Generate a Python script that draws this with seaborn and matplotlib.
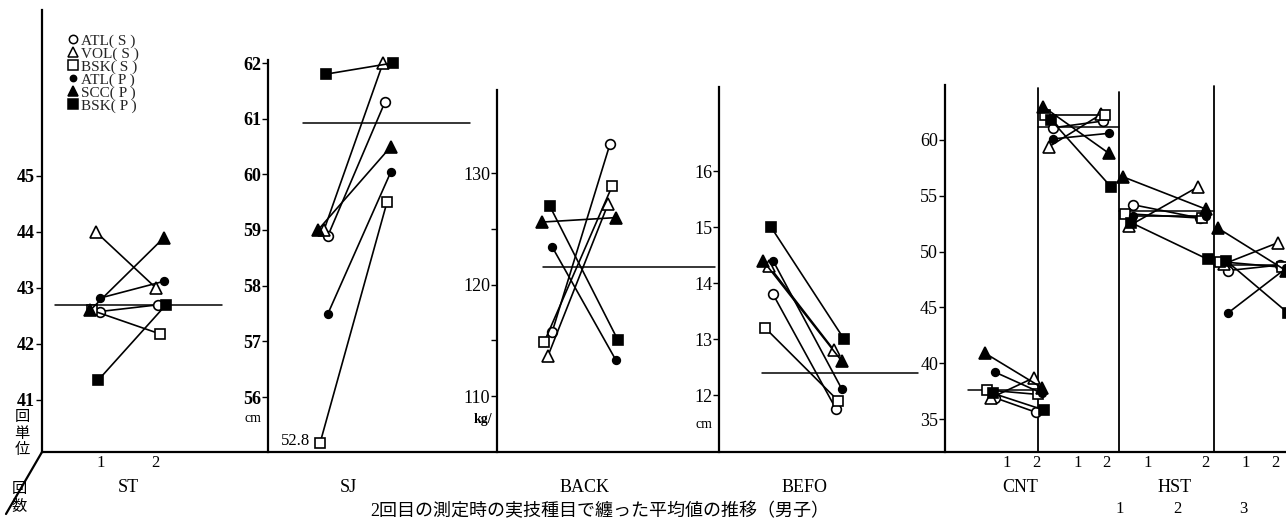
import numpy as np
import pandas as pd
import matplotlib
matplotlib.use('Agg')
import matplotlib.pyplot as plt
from matplotlib.lines import Line2D
import seaborn as sns

# ---- data ----
SERIES = ['ATL(S)', 'VOL(S)', 'BSK(S)', 'ATL(P)', 'SCC(P)', 'BSK(P)']
LEGEND_LABELS = ['ATL( S )', 'VOL( S )', 'BSK( S )', 'ATL( P )', 'SCC( P )', 'BSK( P )']

# 1回目 / 2回目, order follows SERIES
ST_1 = [42.58, 44.0, 42.6, 42.82, 42.6, 41.35]
ST_2 = [42.7, 43.0, 42.18, 43.12, 43.9, 42.7]
SJ_1 = [58.9, 59.0, 52.8, 57.5, 59.0, 61.8]
SJ_2 = [61.3, 62.0, 59.5, 60.05, 60.5, 62.0]
BACK_1 = [115.7, 113.6, 114.8, 123.4, 125.6, 127.0]
BACK_2 = [132.6, 127.2, 128.8, 113.2, 126.0, 115.0]
BEFO_1 = [13.8, 14.3, 13.2, 14.4, 14.4, 15.0]
BEFO_2 = [11.75, 12.8, 11.9, 12.1, 12.6, 13.0]
CNT_1 = [36.9, 36.9, 37.6, 39.2, 40.9, 37.3]
CNT_2 = [35.6, 38.7, 37.2, 37.3, 37.8, 35.8]
HST1_1 = [61.1, 59.4, 62.2, 60.1, 63.0, 61.8]
HST1_2 = [61.7, 62.3, 62.2, 60.6, 58.8, 55.8]
HST2_1 = [54.2, 52.3, 53.4, 53.2, 56.7, 52.6]
HST2_2 = [53.0, 55.8, 53.0, 53.2, 53.8, 49.3]
HST3_1 = [48.3, 48.9, 49.1, 44.5, 52.1, 49.2]
HST3_2 = [48.8, 50.8, 48.6, 48.5, 48.3, 44.5]

# 平均値 (horizontal reference lines)
MEAN_ST, MEAN_SJ, MEAN_BACK, MEAN_BEFO = 42.7, 60.93, 121.6, 12.4
MEAN_CNT, MEAN_HST1, MEAN_HST2, MEAN_HST3 = 37.6, 61.2, 53.6, 48.8

# ---- styles ----
MARKERS = ['o', '^', 's', 'o', '^', 's']
FACES = ['white', 'white', 'white', 'black', 'black', 'black']
MSIZE = [7, 8.5, 7.5, 5.5, 8.5, 7.5]
DODGE = [(0, 0), (-4, -2), (-8, 2), (0, 6), (-10, 6), (-2, 8)]   # px jitter (1回目, 2回目)

W, H = 1286, 524
BASE = 452          # baseline row (px)
SJ_FLOOR = 55.17    # broken-axis position of the 52.8 point

sns.set_theme(style='ticks')
plt.rcParams['font.family'] = ['Liberation Serif', 'Noto Sans CJK JP']
plt.rcParams['axes.unicode_minus'] = False

fig = plt.figure(figsize=(W / 100, H / 100), dpi=100)
fig.patch.set_facecolor('white')

# overlay in pixel coordinates for the frame lines and labels
over = fig.add_axes([0, 0, 1, 1], zorder=0)
over.set_xlim(0, W)
over.set_ylim(H, 0)
over.axis('off')


def ylim_from(v_a, p_a, v_b, p_b, top, bottom=BASE):
    k = (v_b - v_a) / (p_a - p_b)
    return v_a - (bottom - p_a) * k, v_a + (p_a - top) * k


def panel(left, top, right, ylim, ticks, bold, minor=None):
    ax = fig.add_axes([left / W, 1 - BASE / H, (right - left) / W, (BASE - top) / H], zorder=2)
    ax.patch.set_alpha(0)
    for s in ['top', 'right', 'bottom']:
        ax.spines[s].set_visible(False)
    ax.spines['left'].set_linewidth(1.6)
    ax.spines['left'].set_color('black')
    ax.set_xlim(left, right)
    ax.set_ylim(*ylim)
    ax.set_xticks([])
    ax.set_yticks(ticks)
    ax.set_yticklabels([str(t) for t in ticks], fontsize=13,
                       fontweight='bold' if bold else 'normal')
    if minor is not None:
        ax.set_yticks(minor, minor=True)
    ax.tick_params(axis='y', which='both', direction='out', length=4, width=1, pad=1, colors='black')
    return ax


def draw_group(ax, v1, v2, x1, x2, mean, span, floor=None):
    df = pd.DataFrame({'series': SERIES, 'v1': v1, 'v2': v2})
    if floor is not None:
        df['v1'] = np.maximum(df['v1'], floor)
        df['v2'] = np.maximum(df['v2'], floor)
    ax.plot(span, [mean, mean], color='black', lw=1.1, zorder=1)
    for i, row in df.iterrows():
        xs = [x1 + DODGE[i][0], x2 + DODGE[i][1]]
        sns.lineplot(x=xs, y=[row['v1'], row['v2']], ax=ax, color='black', lw=1.2,
                     marker=MARKERS[i], markersize=MSIZE[i], markerfacecolor=FACES[i],
                     markeredgecolor='black', markeredgewidth=1.2, clip_on=False,
                     sort=False, errorbar=None, legend=False, zorder=3)


# ST
ax_st = panel(42, 10, 232, ylim_from(41, 400, 45, 176, 10), [41, 42, 43, 44, 45], True)
draw_group(ax_st, ST_1, ST_2, 100, 158, MEAN_ST, (55, 222))
handles = [Line2D([], [], ls='none', marker=MARKERS[i], markersize=MSIZE[i] - 1,
                  markerfacecolor=FACES[i], markeredgecolor='black', markeredgewidth=1.1)
           for i in range(len(SERIES))]
ax_st.legend(handles, LEGEND_LABELS, loc='upper left', bbox_to_anchor=(60 / W, 1 - 26 / H),
             bbox_transform=fig.transFigure, frameon=False, fontsize=11, labelspacing=-0.05,
             handlelength=0.7, handletextpad=0.2, borderpad=0)

# SJ
ax_sj = panel(268, 60, 480, ylim_from(56, 397, 62, 63, 60), [56, 57, 58, 59, 60, 61, 62], True)
draw_group(ax_sj, SJ_1, SJ_2, 328, 385, MEAN_SJ, (303, 470), floor=SJ_FLOOR)

# BACK
ax_back = panel(497, 90, 720, ylim_from(110, 396, 130, 173, 90), [110, 120, 130], False,
                minor=[115, 125])
draw_group(ax_back, BACK_1, BACK_2, 552, 610, MEAN_BACK, (543, 715))

# BEFO
ax_befo = panel(719, 87, 945, ylim_from(12, 395, 16, 171, 87), [12, 13, 14, 15, 16], False)
draw_group(ax_befo, BEFO_1, BEFO_2, 773, 836, MEAN_BEFO, (762, 918))

# CNT / HST 1-3
ax_c = panel(945, 85, 1286, ylim_from(35, 419, 60, 140, 85), [35, 40, 45, 50, 55, 60], False)
draw_group(ax_c, CNT_1, CNT_2, 995, 1036, MEAN_CNT, (968, 1038))
draw_group(ax_c, HST1_1, HST1_2, 1053, 1103, MEAN_HST1, (1038, 1119))
draw_group(ax_c, HST2_1, HST2_2, 1133, 1200, MEAN_HST2, (1119, 1214))
draw_group(ax_c, HST3_1, HST3_2, 1228, 1280, MEAN_HST3, (1214, 1286))

# ---- frame lines ----
over.plot([42, W], [BASE, BASE], color='black', lw=1.6)
over.plot([42, 6], [BASE, 514], color='black', lw=1.6)
for xs, top in [(1038, 88), (1119, 92), (1214, 86)]:
    over.plot([xs, xs], [top, BASE], color='black', lw=1.3)

# ---- labels ----
txt = dict(color='black', ha='center', va='center')
for x, lab in [(128, 'ST'), (348, 'SJ'), (585, 'BACK'), (805, 'BEFO'), (1020, 'CNT'), (1175, 'HST')]:
    over.text(x, 488, lab, fontsize=13, **txt)
for x, lab in [(101, '1'), (155, '2'), (1007, '1'), (1036, '2'), (1078, '1'), (1106, '2'),
               (1148, '1'), (1205, '2'), (1246, '1'), (1275, '2')]:
    over.text(x, 463, lab, fontsize=12, **txt)
for x, lab in [(1120, '1'), (1177, '2'), (1243, '3')]:
    over.text(x, 509, lab, fontsize=12, **txt)
for y, ch in [(417, '回'), (434, '単'), (450, '位')]:
    over.text(22, y, ch, fontsize=11, **txt)
for y, ch in [(489, '回'), (507, '数')]:
    over.text(19, y, ch, fontsize=11, **txt)
over.text(253, 418, 'cm', fontsize=10, **txt)
over.text(483, 420, 'kg/', fontsize=10, fontweight='bold', **txt)
over.text(704, 424, 'cm', fontsize=10, **txt)
over.text(310, 441, '52.8', fontsize=12, color='black', ha='right', va='center')
over.text(370, 503, '2回目の測定時の実技種目で纏った平均値の推移（男子）', fontsize=13,
          color='black', ha='left', va='top')

fig.savefig('out.png', dpi=100, facecolor='white')
